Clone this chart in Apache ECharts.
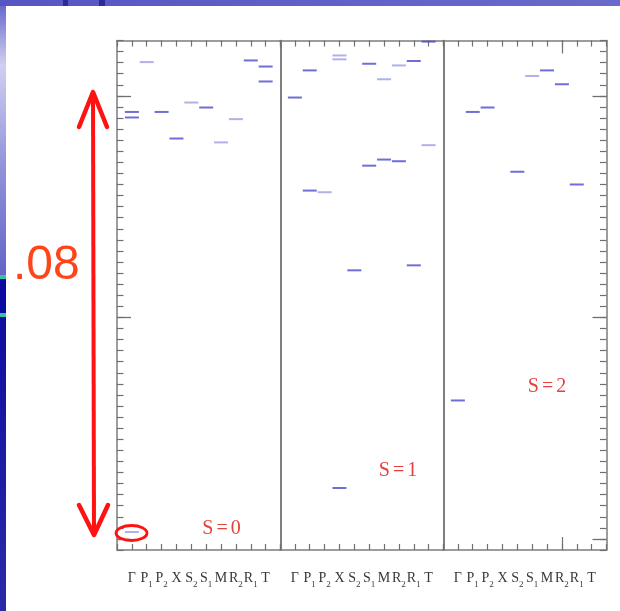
<!DOCTYPE html>
<html>
<head>
<meta charset="utf-8">
<script src="https://cdn.jsdelivr.net/npm/echarts@6/dist/echarts.min.js"></script>
<style>
html, body { margin: 0; padding: 0; background: #ffffff; }
#chart { width: 620px; height: 611px; }
</style>
</head>
<body>
<div id="chart"></div>
<script>
// k-point path shown along every panel
const kLabels = ['Γ', 'P1', 'P2', 'X', 'S2', 'S1', 'M', 'R2', 'R1', 'T'];

// Levels (eV) at each k-point, S = 0
const s0Strong = [[0.0771, 0.0761], [], [0.0771], [0.0723], [], [0.0779], [], [], [0.0864], [0.0853, 0.0826]];
const s0Weak   = [[0.00125], [0.0861], [], [], [0.0788], [], [0.0716], [0.0758], [], []];
// S = 1
const s1Strong = [[0.0797], [0.0846, 0.0629], [], [0.0092], [0.0485], [0.0858, 0.0674], [0.0685], [0.0682], [0.0863, 0.0494], [0.0898]];
const s1Weak   = [[], [], [0.0626], [0.0873, 0.0866], [], [], [0.0830], [0.0855], [], [0.0711]];
// S = 2
const s2Strong = [[0.0250], [0.0771], [0.0779], [], [0.0663], [], [0.0846], [0.0821], [0.0640], []];
const s2Weak   = [[], [], [], [], [], [0.0836], [], [], [], []];

const panelNames = ['0', '1', '2'];
const spanLabel = '.08';

// energy axis: minor ticks every 2 meV, long ticks every 40 meV
const yMin = -0.002, yMax = 0.09, yMinor = 0.002;
const yMajor = [0, 0.04, 0.08];

const panels = [[s0Strong, s0Weak], [s1Strong, s1Weak], [s2Strong, s2Weak]];

const frameColor = '#7c7c7c';
const dividerColor = '#555555';
const tickColor = '#707070';
const strongColor = '#4a4acc';
const weakColor = '#9c9ce6';

const gridLeft = [117, 280, 443];
const gridWidth = 163.5;
const gridTop = 40.5;
const gridHeight = 509.5;

function toPoints(levels) {
  const pts = [];
  levels.forEach((lv, i) => lv.forEach(e => pts.push([i + 1, e])));
  return pts;
}

function kLabel(v) {
  if (v < 1 || v > kLabels.length) return '';
  const name = kLabels[v - 1];
  const m = name.match(/^(\D+)(\d)$/);
  return m ? '{b|' + m[1] + '}{s|' + m[2] + '}' : '{b|' + name + '}';
}

const serif = '"Liberation Serif", "DejaVu Serif", serif';
const labelRich = {
  b: { fontFamily: serif, fontSize: 14, color: '#383838', lineHeight: 18, verticalAlign: 'top' },
  s: { fontFamily: serif, fontSize: 9, color: '#383838', lineHeight: 10, verticalAlign: 'bottom' }
};

const grids = [], xAxes = [], yAxes = [], series = [];

panels.forEach((pair, p) => {
  grids.push({ left: gridLeft[p], top: gridTop, width: gridWidth, height: gridHeight });

  const xBottom = xAxes.length;
  ['bottom', 'top'].forEach(pos => {
    xAxes.push({
      gridIndex: p, type: 'value', position: pos, min: 0, max: 11, interval: 1,
      axisLine: { show: true, onZero: false, lineStyle: { color: frameColor, width: 1.5 } },
      axisTick: { show: true, inside: true, length: 6, lineStyle: { color: tickColor, width: 1.2 } },
      axisLabel: pos === 'bottom'
        ? { show: true, formatter: kLabel, margin: 21, rich: labelRich, hideOverlap: false }
        : { show: false },
      splitLine: { show: false }
    });
  });
  if (p === 2) {
    // longer ticks at R2 in the last panel
    ['bottom', 'top'].forEach(pos => {
      xAxes.push({
        gridIndex: p, type: 'value', position: pos, min: 0, max: 11,
        axisLine: { show: false, onZero: false },
        axisTick: { show: true, inside: true, length: 13, customValues: [8], lineStyle: { color: tickColor, width: 1.2 } },
        axisLabel: { show: false },
        splitLine: { show: false }
      });
    });
  }

  const yLeft = yAxes.length;
  yAxes.push({
    gridIndex: p, type: 'value', position: 'left', min: yMin, max: yMax, interval: yMinor,
    axisLine: { show: p === 0, onZero: false, lineStyle: { color: frameColor, width: 1.5 } },
    axisTick: { show: p === 0, inside: true, length: 6.5, lineStyle: { color: tickColor, width: 1.2 } },
    axisLabel: { show: false },
    splitLine: { show: false }
  });
  yAxes.push({
    gridIndex: p, type: 'value', position: 'right', min: yMin, max: yMax, interval: yMinor,
    axisLine: { show: true, onZero: false, lineStyle: { color: p === 2 ? frameColor : dividerColor, width: 1.5 } },
    axisTick: { show: p === 2, inside: true, length: 6.5, lineStyle: { color: tickColor, width: 1.2 } },
    axisLabel: { show: false },
    splitLine: { show: false }
  });
  if (p === 0 || p === 2) {
    yAxes.push({
      gridIndex: p, type: 'value', position: p === 0 ? 'left' : 'right', min: yMin, max: yMax,
      axisLine: { show: false, onZero: false },
      axisTick: { show: true, inside: true, length: 14, customValues: yMajor, lineStyle: { color: tickColor, width: 1.3 } },
      axisLabel: { show: false },
      splitLine: { show: false }
    });
  }

  [[pair[0], strongColor], [pair[1], weakColor]].forEach(([levels, color]) => {
    series.push({
      type: 'scatter', xAxisIndex: xBottom, yAxisIndex: yLeft,
      data: toPoints(levels),
      symbol: 'rect', symbolSize: [14, 2],
      itemStyle: { color: color },
      silent: true, animation: false
    });
  });
});

const spinText = (x, y, n) => ({
  type: 'text', x: x, y: y, z: 10,
  style: {
    text: '{t|S}{e|=}{t|' + n + '}',
    textAlign: 'center', textVerticalAlign: 'middle',
    rich: {
      t: { fontFamily: serif, fontSize: 20, fill: '#e4403c' },
      e: { fontFamily: serif, fontSize: 20, fill: '#e4403c', padding: [0, 3, 0, 3] }
    }
  }
});

const red = '#ff1212';
const graphic = [
  // slide frame
  { type: 'rect', z: 0, shape: { x: 0, y: 0, width: 620, height: 6 },
    style: { fill: new echarts.graphic.LinearGradient(0, 0, 1, 0, [
      { offset: 0, color: '#5656c2' }, { offset: 1, color: '#6a6acc' }]) } },
  { type: 'rect', z: 0, shape: { x: 63, y: 0, width: 5, height: 6 }, style: { fill: '#2c2c98' } },
  { type: 'rect', z: 0, shape: { x: 99, y: 0, width: 6, height: 6 }, style: { fill: '#2c2c98' } },
  { type: 'rect', z: 0, shape: { x: 0, y: 6, width: 6, height: 269 },
    style: { fill: new echarts.graphic.LinearGradient(0, 0, 0, 1, [
      { offset: 0, color: '#6a6acc' }, { offset: 0.22, color: '#d0d0f2' },
      { offset: 0.6, color: '#9292da' }, { offset: 1, color: '#6464c8' }]) } },
  { type: 'rect', z: 0, shape: { x: 0, y: 275, width: 6, height: 4 }, style: { fill: '#34c4a4' } },
  { type: 'rect', z: 0, shape: { x: 0, y: 279, width: 6, height: 34 }, style: { fill: '#0a0aa0' } },
  { type: 'rect', z: 0, shape: { x: 0, y: 313, width: 6, height: 4 }, style: { fill: '#34c4a4' } },
  { type: 'rect', z: 0, shape: { x: 0, y: 317, width: 6, height: 294 },
    style: { fill: new echarts.graphic.LinearGradient(0, 0, 0, 1, [
      { offset: 0, color: '#0e0ea0' }, { offset: 1, color: '#2a2aa8' }]) } },

  // span annotation
  { type: 'text', x: 13, y: 266, z: 10,
    style: { text: spanLabel, fill: '#ff4418', font: '48px "Liberation Sans", Arial, sans-serif',
      textVerticalAlign: 'middle' } },
  { type: 'polyline', z: 10, shape: { points: [[93, 94], [94, 532]] },
    style: { stroke: red, lineWidth: 4, fill: 'none' } },
  { type: 'polyline', z: 10, shape: { points: [[79, 127], [93, 92], [107, 127]] },
    style: { stroke: red, lineWidth: 4.5, fill: 'none', lineJoin: 'round', lineCap: 'round' } },
  { type: 'polyline', z: 10, shape: { points: [[79, 505], [94, 535], [108, 505]] },
    style: { stroke: red, lineWidth: 4.5, fill: 'none', lineJoin: 'round', lineCap: 'round' } },
  { type: 'ellipse', z: 10, shape: { cx: 131.5, cy: 533, rx: 15.5, ry: 7.5 },
    style: { fill: 'none', stroke: red, lineWidth: 2.8 } },

  spinText(221.5, 529, panelNames[0]),
  spinText(398, 471, panelNames[1]),
  spinText(547, 387, panelNames[2])
];

const chart = echarts.init(document.getElementById('chart'), null, { renderer: 'canvas' });
chart.setOption({
  animation: false,
  backgroundColor: '#ffffff',
  grid: grids,
  xAxis: xAxes,
  yAxis: yAxes,
  series: series,
  graphic: graphic
});
</script>
</body>
</html>
